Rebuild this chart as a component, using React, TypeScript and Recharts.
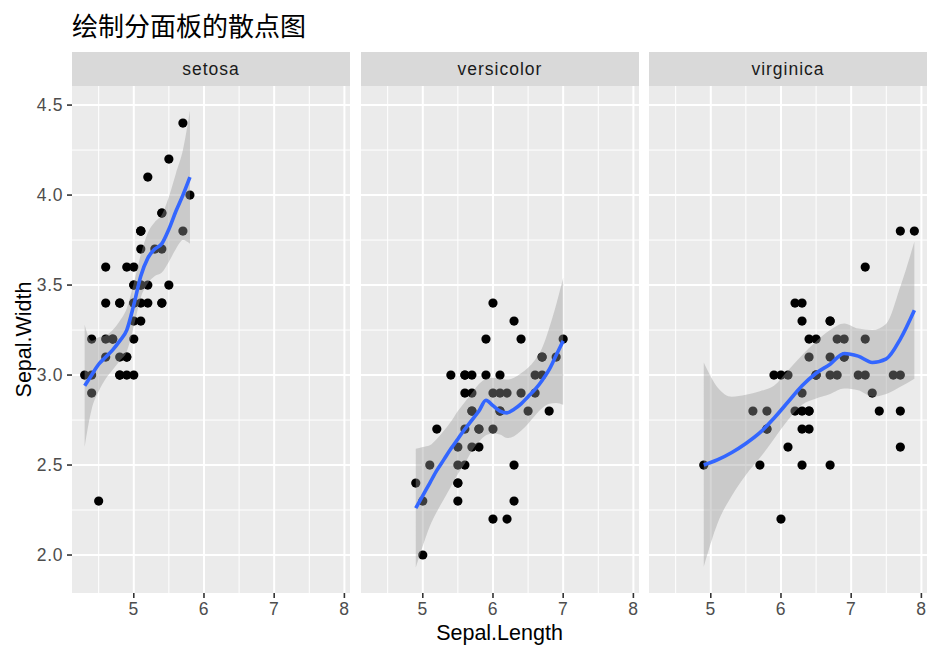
import React from 'react';
import { ComposedChart, Scatter, Line, Area, XAxis, YAxis, CartesianGrid } from 'recharts';

const chartTitle = '绘制分面板的散点图';
const xTitle = 'Sepal.Length';
const yTitle = 'Sepal.Width';
const speciesNames = ['setosa', 'versicolor', 'virginica'];

const xTicks = [5, 6, 7, 8];
const xMinor = [4.5, 5.5, 6.5, 7.5];
const yTicks = [2.0, 2.5, 3.0, 3.5, 4.0, 4.5];
const yMinor = [2.25, 2.75, 3.25, 3.75, 4.25];
const xDomain = [4.12, 8.08];
const yDomain = [1.789, 4.606];

const setosaLength = [5.1,4.9,4.7,4.6,5.0,5.4,4.6,5.0,4.4,4.9,5.4,4.8,4.8,4.3,5.8,5.7,5.4,5.1,5.7,5.1,5.4,5.1,4.6,5.1,4.8,5.0,5.0,5.2,5.2,4.7,4.8,5.4,5.2,5.5,4.9,5.0,5.5,4.9,4.4,5.1,5.0,4.5,4.4,5.0,5.1,4.8,5.1,4.6,5.3,5.0];
const setosaWidth = [3.5,3.0,3.2,3.1,3.6,3.9,3.4,3.4,2.9,3.1,3.7,3.4,3.0,3.0,4.0,4.4,3.9,3.5,3.8,3.8,3.4,3.7,3.6,3.3,3.4,3.0,3.4,3.5,3.4,3.2,3.1,3.4,4.1,4.2,3.1,3.2,3.5,3.6,3.0,3.4,3.5,2.3,3.2,3.5,3.8,3.0,3.8,3.2,3.7,3.3];
const versicolorLength = [7.0,6.4,6.9,5.5,6.5,5.7,6.3,4.9,6.6,5.2,5.0,5.9,6.0,6.1,5.6,6.7,5.6,5.8,6.2,5.6,5.9,6.1,6.3,6.1,6.4,6.6,6.8,6.7,6.0,5.7,5.5,5.5,5.8,6.0,5.4,6.0,6.7,6.3,5.6,5.5,5.5,6.1,5.8,5.0,5.6,5.7,5.7,6.2,5.1,5.7];
const versicolorWidth = [3.2,3.2,3.1,2.3,2.8,2.8,3.3,2.4,2.9,2.7,2.0,3.0,2.2,2.9,2.9,3.1,3.0,2.7,2.2,2.5,3.2,2.8,2.5,2.8,2.9,3.0,2.8,3.0,2.9,2.6,2.4,2.4,2.7,2.7,3.0,3.4,3.1,2.3,3.0,2.5,2.6,3.0,2.6,2.3,2.7,3.0,2.9,2.9,2.5,2.8];
const virginicaLength = [6.3,5.8,7.1,6.3,6.5,7.6,4.9,7.3,6.7,7.2,6.5,6.4,6.8,5.7,5.8,6.4,6.5,7.7,7.7,6.0,6.9,5.6,7.7,6.3,6.7,7.2,6.2,6.1,6.4,7.2,7.4,7.9,6.4,6.3,6.1,7.7,6.3,6.4,6.0,6.9,6.7,6.9,5.8,6.8,6.7,6.7,6.3,6.5,6.2,5.9];
const virginicaWidth = [3.3,2.7,3.0,2.9,3.0,3.0,2.5,2.9,2.5,3.6,3.2,2.7,3.0,2.5,2.8,3.2,3.0,3.8,2.6,2.2,3.2,2.8,2.8,2.7,3.3,3.2,2.8,3.0,2.8,3.0,2.8,3.8,2.8,2.8,2.6,3.0,3.4,3.1,3.0,3.1,3.1,3.1,2.7,3.2,3.3,3.0,2.5,3.0,3.4,3.0];

// loess smooth
const setosaSmoothX = [4.3,4.4,4.5,4.6,4.7,4.8,4.9,5.0,5.1,5.2,5.3,5.4,5.5,5.6,5.7,5.8];
const setosaFit = [2.94,3.00,3.06,3.10,3.14,3.19,3.25,3.39,3.55,3.65,3.70,3.73,3.81,3.91,4.00,4.10];
const setosaLo = [2.60,2.81,2.91,2.98,3.03,3.08,3.13,3.27,3.43,3.51,3.55,3.57,3.63,3.70,3.75,3.73];
const setosaHi = [3.28,3.19,3.21,3.22,3.25,3.30,3.37,3.51,3.67,3.79,3.85,3.89,3.99,4.12,4.25,4.47];

const versicolorSmoothX = [4.9,5.0,5.1,5.2,5.3,5.4,5.5,5.6,5.7,5.8,5.9,6.0,6.1,6.2,6.3,6.4,6.5,6.6,6.7,6.8,6.9,7.0];
const versicolorFit = [2.26,2.33,2.40,2.47,2.53,2.59,2.645,2.70,2.75,2.80,2.86,2.83,2.80,2.79,2.81,2.84,2.88,2.92,2.97,3.03,3.11,3.19];
const versicolorLo = [1.93,2.05,2.16,2.24,2.31,2.38,2.45,2.51,2.58,2.63,2.665,2.675,2.67,2.65,2.66,2.69,2.73,2.775,2.815,2.84,2.845,2.835];
const versicolorHi = [2.59,2.60,2.61,2.645,2.69,2.74,2.80,2.85,2.90,2.95,2.978,2.985,2.98,2.975,2.985,3.01,3.04,3.085,3.15,3.26,3.39,3.54];

const virginicaSmoothX = [4.9,5.1,5.3,5.5,5.7,5.9,6.1,6.3,6.5,6.7,6.9,7.1,7.3,7.5,7.7,7.9];
const virginicaFit = [2.50,2.53,2.57,2.62,2.68,2.76,2.85,2.94,3.01,3.06,3.12,3.105,3.07,3.09,3.20,3.36];
const virginicaLo = [1.935,2.18,2.33,2.445,2.54,2.645,2.75,2.835,2.87,2.895,2.925,2.915,2.88,2.895,2.935,2.98];
const virginicaHi = [3.07,2.93,2.88,2.89,2.91,2.94,3.025,3.11,3.186,3.25,3.287,3.258,3.25,3.285,3.49,3.74];

const points = (xs: number[], ys: number[]) => xs.map((x, i) => ({ x, y: ys[i] }));
const smooth = (xs: number[], fit: number[], lo: number[], hi: number[]) =>
  xs.map((x, i) => ({ x, fit: fit[i], band: [lo[i], hi[i]] }));

const panels = [
  { name: speciesNames[0], pts: points(setosaLength, setosaWidth), sm: smooth(setosaSmoothX, setosaFit, setosaLo, setosaHi) },
  { name: speciesNames[1], pts: points(versicolorLength, versicolorWidth), sm: smooth(versicolorSmoothX, versicolorFit, versicolorLo, versicolorHi) },
  { name: speciesNames[2], pts: points(virginicaLength, virginicaWidth), sm: smooth(virginicaSmoothX, virginicaFit, virginicaLo, virginicaHi) },
];

const FONT = '"Liberation Sans", Arial, Helvetica, sans-serif';
const PANEL_TOP = 86;
const PANEL_H = 507;
const PANEL_W = 278;
const panelLefts = [72, 361, 649];
const Y_AXIS_W = 72;
const X_AXIS_H = 40;

const Dot = (props: any) => {
  const { cx, cy } = props;
  if (cx == null || cy == null) return null;
  return <circle cx={cx} cy={cy} r={4.6} fill="#000000" />;
};

const tickStyle = { fill: '#4D4D4D', fontSize: 17.5, fontFamily: FONT, letterSpacing: 0.6 };

function Panel({ idx }: { idx: number }) {
  const p = panels[idx];
  const showY = idx === 0;
  const left = showY ? panelLefts[idx] - Y_AXIS_W : panelLefts[idx];
  const width = showY ? PANEL_W + Y_AXIS_W : PANEL_W;
  return (
    <div style={{ position: 'absolute', left, top: PANEL_TOP, width, height: PANEL_H + X_AXIS_H }}>
      <ComposedChart
        width={width}
        height={PANEL_H + X_AXIS_H}
        data={p.sm}
        margin={{ top: 0, right: 0, bottom: 0, left: 0 }}
      >
        <CartesianGrid
          fill="#EBEBEB"
          fillOpacity={1}
          stroke="#FFFFFF"
          strokeWidth={1}
          horizontalValues={yMinor}
          verticalValues={xMinor}
        />
        <CartesianGrid
          stroke="#FFFFFF"
          strokeWidth={2}
          horizontalValues={yTicks}
          verticalValues={xTicks}
        />
        <XAxis
          type="number"
          dataKey="x"
          domain={xDomain}
          allowDataOverflow
          ticks={xTicks}
          interval={0}
          height={X_AXIS_H}
          axisLine={false}
          tickLine={{ stroke: '#333333', strokeWidth: 1.6 }}
          tickSize={5}
          tickMargin={5}
          tick={tickStyle}
        />
        <YAxis
          type="number"
          dataKey="y"
          domain={yDomain}
          allowDataOverflow
          ticks={yTicks}
          interval={0}
          hide={!showY}
          width={Y_AXIS_W}
          axisLine={false}
          tickLine={{ stroke: '#333333', strokeWidth: 1.6 }}
          tickSize={5}
          tickMargin={4}
          tick={tickStyle}
          tickFormatter={(v: number) => v.toFixed(1)}
        />
        <Scatter data={p.pts} dataKey="y" shape={<Dot />} isAnimationActive={false} zIndex={100} />
        <Area
          type="monotone"
          dataKey="band"
          stroke="none"
          fill="#999999"
          fillOpacity={0.4}
          isAnimationActive={false}
          dot={false}
          activeDot={false}
          zIndex={200}
        />
        <Line
          type="monotone"
          dataKey="fit"
          stroke="#3366FF"
          strokeWidth={3.6}
          dot={false}
          activeDot={false}
          isAnimationActive={false}
          zIndex={300}
        />
      </ComposedChart>
    </div>
  );
}

export default function App() {
  return (
    <div style={{ position: 'absolute', left: 0, top: 0, width: 927, height: 645, background: '#FFFFFF', overflow: 'hidden' }}>
      <svg width={927} height={645} style={{ position: 'absolute', left: 0, top: 0 }}>
        <text x={72} y={35.5} fontSize={26} fill="#000000" fontFamily={'"Noto Sans CJK SC", "Noto Sans", sans-serif'}>
          {chartTitle}
        </text>
        {panels.map((p, i) => (
          <g key={p.name}>
            <rect x={panelLefts[i]} y={52} width={PANEL_W} height={34} fill="#D9D9D9" />
            <text
              x={panelLefts[i] + PANEL_W / 2}
              y={75}
              fontSize={17.5}
              letterSpacing={1}
              fill="#1A1A1A"
              textAnchor="middle"
              fontFamily={FONT}
            >
              {p.name}
            </text>
          </g>
        ))}
        <text x={499.5} y={640} fontSize={21.5} fill="#000000" textAnchor="middle" fontFamily={FONT}>
          {xTitle}
        </text>
        <text
          x={0}
          y={0}
          transform="translate(30.5,339.5) rotate(-90)"
          fontSize={21.5}
          fill="#000000"
          textAnchor="middle"
          fontFamily={FONT}
        >
          {yTitle}
        </text>
      </svg>
      {panels.map((p, i) => (
        <Panel key={p.name} idx={i} />
      ))}
    </div>
  );
}
